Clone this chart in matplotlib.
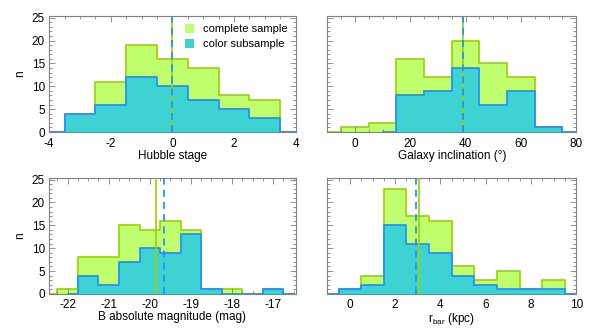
import matplotlib
matplotlib.use("Agg")
import matplotlib.pyplot as plt
from matplotlib.patches import Patch
from matplotlib.ticker import MultipleLocator
import numpy as np

plt.rcParams['font.family'] = ['Liberation Sans', 'DejaVu Sans']
plt.rcParams['font.size'] = 8.5
plt.rcParams['mathtext.default'] = 'regular'
plt.rcParams['axes.unicode_minus'] = False

# Hubble stage (bin centres, counts)
hub_x = [-4, -3, -2, -1, 0, 1, 2, 3, 4]
hub_all = [0, 4, 11, 19, 16, 14, 8, 7, 0]
hub_col = [0, 4, 6, 12, 10, 7, 5, 3, 0]
hub_med_all = 0.0
hub_med_col = 0.0

# Galaxy inclination
inc_x_all = [-10, 0, 10, 20, 30, 40, 50, 60, 70, 80]
inc_all = [0, 1, 2, 16, 12, 20, 15, 12, 1, 0]
inc_x_col = [10, 20, 30, 40, 50, 60, 70, 80]
inc_col = [0, 8, 9, 14, 6, 9, 1, 0]
inc_med_all = 39.0
inc_med_col = 39.0

# B absolute magnitude
mag_x_all = [-22.5, -22.0, -21.5, -21.0, -20.5, -20.0, -19.5, -19.0,
             -18.5, -18.0, -17.5, -17.0, -16.5]
mag_all = [0, 1, 8, 8, 15, 14, 16, 14, 1, 1, 0, 1, 0]
mag_x_col = [-22.0, -21.5, -21.0, -20.5, -20.0, -19.5, -19.0,
             -18.5, -18.0, -17.5, -17.0, -16.5]
mag_col = [0, 4, 2, 7, 10, 9, 13, 1, 0, 0, 1, 0]
mag_med_all = -19.85
mag_med_col = -19.65

# bar radius
rb_x = [-1, 0, 1, 2, 3, 4, 5, 6, 7, 8, 9, 10]
rb_all = [0, 1, 4, 23, 17, 16, 6, 3, 5, 1, 3, 0]
rb_col = [0, 1, 2, 15, 11, 9, 4, 2, 1, 1, 1, 0]
rb_med_all = 3.06
rb_med_col = 2.94

GREEN_FILL = "#c0ff6e"
GREEN_EDGE = "#9ad600"
BLUE_FILL = "#3ed3d3"
BLUE_EDGE = "#1e8fff"
FRAME = "#808080"


def hist(ax, x, y, fill, edge, zorder):
    ax.fill_between(x, 0, y, step="mid", color=fill, lw=0, zorder=zorder)
    ax.step(x, y, where="mid", color=edge, lw=1.25, zorder=zorder + 0.5)


def panel(ax, xa, ya, xc, yc, med_a, med_c, xlim, xmaj, xmin, xlabel, ylab):
    hist(ax, xa, ya, GREEN_FILL, GREEN_EDGE, 1)
    hist(ax, xc, yc, BLUE_FILL, BLUE_EDGE, 2)
    ax.axvline(med_a, color=GREEN_EDGE, lw=1.25, zorder=4)
    ax.axvline(med_c, color=BLUE_EDGE, lw=1.25, ls=(0, (4, 3)), zorder=5)
    ax.set_xlim(*xlim)
    ax.set_ylim(0, 25.4)
    ax.xaxis.set_major_locator(MultipleLocator(xmaj))
    ax.xaxis.set_minor_locator(MultipleLocator(xmin))
    ax.yaxis.set_major_locator(MultipleLocator(5))
    ax.yaxis.set_minor_locator(MultipleLocator(1))
    ax.tick_params(which="both", direction="in", top=True, right=True,
                   color=FRAME, width=0.6)
    ax.tick_params(which="major", length=4)
    ax.tick_params(which="minor", length=2)
    ax.tick_params(axis="x", pad=4)
    ax.tick_params(axis="y", pad=3)
    for s in ax.spines.values():
        s.set_color(FRAME)
        s.set_linewidth(0.8)
    ax.set_xlabel(xlabel, labelpad=0)
    if ylab:
        ax.set_ylabel("n", labelpad=4)
    else:
        ax.set_yticklabels([])


fig = plt.figure(figsize=(6.06, 3.31), dpi=100)
ax1 = fig.add_axes([0.081, 0.601, 0.407, 0.351])
ax2 = fig.add_axes([0.540, 0.601, 0.411, 0.351])
ax3 = fig.add_axes([0.081, 0.112, 0.407, 0.351])
ax4 = fig.add_axes([0.540, 0.112, 0.411, 0.351])

panel(ax1, hub_x, hub_all, hub_x, hub_col, hub_med_all, hub_med_col,
      (-4, 4), 2, 0.5, "Hubble stage", True)
panel(ax2, inc_x_all, inc_all, inc_x_col, inc_col, inc_med_all, inc_med_col,
      (-10, 80), 20, 5, "Galaxy inclination (\u00b0)", False)
panel(ax3, mag_x_all, mag_all, mag_x_col, mag_col, mag_med_all, mag_med_col,
      (-22.45, -16.45), 1, 0.25, "B absolute magnitude (mag)", True)
panel(ax4, rb_x, rb_all, rb_x, rb_col, rb_med_all, rb_med_col,
      (-1, 10), 2, 0.5, "r$_{bar}$ (kpc)", False)

handles = [Patch(facecolor=GREEN_FILL, edgecolor="none", label="complete sample"),
           Patch(facecolor=BLUE_FILL, edgecolor="none", label="color subsample")]
ax1.legend(handles=handles, loc="upper right", frameon=False, fontsize=8,
           handlelength=0.8, handleheight=0.8, handletextpad=0.8,
           borderaxespad=0.35, labelspacing=0.45)

fig.savefig("out.png", dpi=100)
